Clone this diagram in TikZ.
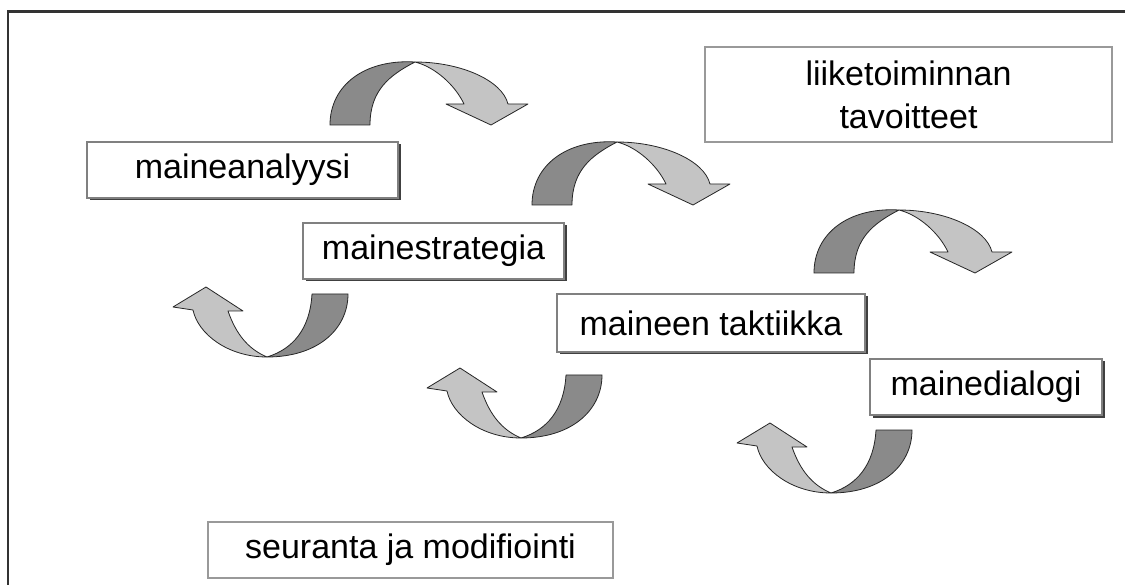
\documentclass[tikz,border=0pt]{standalone}
\usepackage{fontspec}
\setmainfont{Liberation Sans}
\usetikzlibrary{shadows}
\definecolor{darkband}{HTML}{8A8A8A}
\definecolor{lightband}{HTML}{C4C4C4}
\tikzset{
  box/.style={draw=black!40, line width=1.2pt, fill=white, inner sep=0pt,
    font=\fontsize{34}{43}\selectfont, align=center},
  shbox/.style={box, draw=black!50, drop shadow={shadow xshift=2.5pt, shadow yshift=-2.5pt, fill=black!75, opacity=1}},
  darkpart/.style={fill=darkband, draw=black!85, line width=0.8pt, line join=round},
  lightpart/.style={fill=lightband, draw=black!85, line width=0.8pt, line join=round},
  downarrow/.pic={
    \path[darkpart] (0,0) .. controls (0,-40) and (35,-66) .. (85,-63)
      .. controls (60,-50) and (40,-35) .. (40,0) -- cycle;
    \path[lightpart] (85,-63) .. controls (130,-63) and (172,-45) .. (178,-21)
      -- (198,-21) -- (161,0) -- (116,-21) -- (134,-21)
      .. controls (125,-40) and (105,-58) .. (85,-63) -- cycle;
  },
  uparrow/.pic={
    \path[darkpart] (0,0) .. controls (0,35) and (-30,63) .. (-81,63)
      .. controls (-55,55) and (-38,35) .. (-36,0) -- cycle;
    \path[lightpart] (-81,63) .. controls (-120,63) and (-150,40) .. (-155,16)
      -- (-175,13) -- (-142,-7) -- (-105,17) -- (-120,17)
      .. controls (-112,40) and (-100,55) .. (-81,63) -- cycle;
  }
}
\begin{document}
\begin{tikzpicture}[x=1pt,y=-1pt]
\useasboundingbox (0,0) rectangle (1125,585);
\clip (0,0) rectangle (1125,585);
\fill[white] (0,0) rectangle (1125,585);
\draw[line width=2.5pt, black!80] (8,11.5) rectangle (1250,700);

% curved arrows
\pic at (330,125) {downarrow};
\pic at (532,205) {downarrow};
\pic at (814,273) {downarrow};
\pic at (348,294) {uparrow};
\pic at (602,375) {uparrow};
\pic at (912,430) {uparrow};

% boxes
\node[shbox, minimum width=311pt, minimum height=56pt] (ana) at (242.5,170) {maineanalyysi};
\node[shbox, minimum width=261pt, minimum height=56pt] (str) at (433.5,251) {mainestrategia};
\node[box, minimum width=407pt, minimum height=95pt] (liik) at (908.5,94.5) {liiketoiminnan\\tavoitteet};
\node[shbox, minimum width=308pt, minimum height=58pt] (takt) at (711,323) {maineen taktiikka};
\node[shbox, minimum width=232pt, minimum height=56pt] (dial) at (986,387) {mainedialogi};
\node[box, minimum width=405pt, minimum height=56pt] (seur) at (410.5,550) {seuranta ja modifiointi};
\end{tikzpicture}
\end{document}
